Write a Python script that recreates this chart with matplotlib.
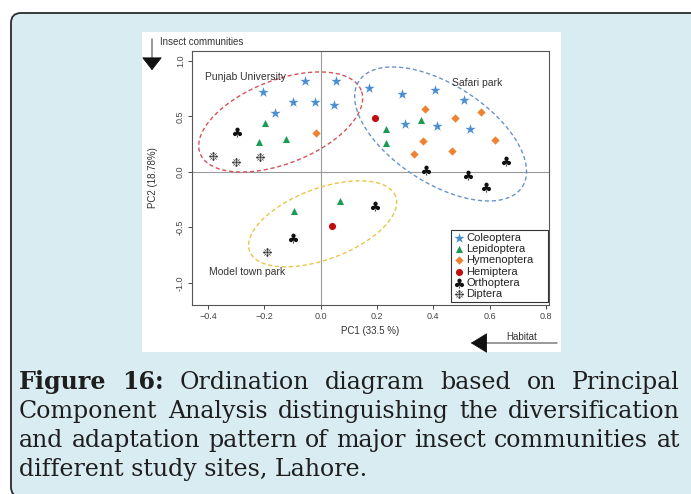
import numpy as np
import matplotlib
matplotlib.use('Agg')
import matplotlib.pyplot as plt
from matplotlib.patches import FancyBboxPatch, Rectangle, FancyArrowPatch

plt.rcParams['font.family'] = ['Liberation Sans', 'DejaVu Sans']

# PCA scores per insect order (PC1, PC2)
coleoptera_x = [-0.205, -0.054, 0.053, -0.161, -0.10, -0.02, 0.049, 0.17, 0.29, 0.407, 0.509, 0.30, 0.414, 0.53]
coleoptera_y = [0.72, 0.82, 0.82, 0.53, 0.63, 0.63, 0.60, 0.76, 0.70, 0.74, 0.65, 0.43, 0.41, 0.39]
lepidoptera_x = [-0.196, -0.22, -0.122, 0.233, 0.231, 0.358, 0.067, -0.095]
lepidoptera_y = [0.44, 0.27, 0.30, 0.39, 0.26, 0.47, -0.26, -0.35]
hymenoptera_x = [-0.018, 0.371, 0.571, 0.476, 0.618, 0.363, 0.466, 0.33]
hymenoptera_y = [0.35, 0.57, 0.54, 0.49, 0.29, 0.28, 0.19, 0.16]
hemiptera_x = [0.194, 0.04]
hemiptera_y = [0.49, -0.49]
orthoptera_x = [-0.297, 0.373, 0.523, 0.586, 0.657, -0.098, 0.192]
orthoptera_y = [0.36, 0.02, -0.03, -0.14, 0.10, -0.60, -0.31]
diptera_x = [-0.383, -0.30, -0.214, -0.19]
diptera_y = [0.14, 0.09, 0.13, -0.72]

# site groupings: name, label pos, centre, semi axes (px), tilt (deg), colour
sites = ['Punjab University', 'Safari park', 'Model town park']
site_label_x = [-0.412, 0.468, -0.398]
site_label_y = [0.86, 0.80, -0.90]
site_cx = [-0.142, 0.426, 0.007]
site_cy = [0.45, 0.342, -0.468]
site_a = [86.5, 97.3, 78.0]
site_b = [41.7, 49.1, 35.4]
site_ang = [21.4, -32.9, 20.6]
site_col = ['#d4545a', '#6a93c8', '#e9c449']

caption = [
    [('Figure', 'bold'), ('16:', 'bold'), ('Ordination', 'normal'), ('diagram', 'normal'),
     ('based', 'normal'), ('on', 'normal'), ('Principal', 'normal')],
    [(w, 'normal') for w in 'Component Analysis distinguishing the diversification'.split()],
    [(w, 'normal') for w in 'and adaptation pattern of major insect communities at'.split()],
]
caption_last = 'different study sites, Lahore.'

fig = plt.figure(figsize=(6.91, 4.94), dpi=100)
fig.patch.set_facecolor('white')
H = 4.94

# page box and white picture panel (behind the axes)
box = FancyBboxPatch((0.11, -0.03), 7.0, H - 0.13 + 0.03,
                     boxstyle='round,pad=0,rounding_size=0.1',
                     transform=fig.dpi_scale_trans, facecolor='#d8ecf2',
                     edgecolor='#2b2b2b', lw=1.3, zorder=-3)
fig.patches.append(box)
panel = Rectangle((1.415, H - 3.52), 4.19, 3.20, transform=fig.dpi_scale_trans,
                  facecolor='white', edgecolor='none', zorder=-2)
fig.patches.append(panel)

ax = fig.add_axes([192 / 691, 1 - 305 / 494, 357 / 691, 254 / 494])
ax.patch.set_alpha(0)
ax.set_xlim(-0.457, 0.811)
ax.set_ylim(-1.2, 1.09)

ax.axhline(0, color='#9a9a9a', lw=0.8, zorder=0)
ax.axvline(0, color='#9a9a9a', lw=0.8, zorder=0)

ax.scatter(coleoptera_x, coleoptera_y, marker='*', s=60, color='#4b8fd1', lw=0, label='Coleoptera')
ax.scatter(lepidoptera_x, lepidoptera_y, marker='^', s=26, color='#1a9a52', lw=0, label='Lepidoptera')
ax.scatter(hymenoptera_x, hymenoptera_y, marker='D', s=18, color='#ee8230', lw=0, label='Hymenoptera')
ax.scatter(hemiptera_x, hemiptera_y, marker='o', s=26, color='#c00d0d', lw=0, label='Hemiptera')
ax.scatter(orthoptera_x, orthoptera_y, marker=r'$\clubsuit$', s=50, color='#111111', lw=0, label='Orthoptera')
ax.scatter(diptera_x, diptera_y, marker='$\u2749$', s=40, color='#333333', lw=0, label='Diptera')

# ellipses drawn in screen-like units so the tilt matches the picture
pos = ax.get_position()
sx = pos.width * 691 / (0.811 + 0.457)
sy = pos.height * 494 / (1.09 + 1.2)
t = np.linspace(0, 2 * np.pi, 300)
for i in range(len(sites)):
    th = np.radians(site_ang[i])
    dx = site_a[i] * np.cos(t) * np.cos(th) - site_b[i] * np.sin(t) * np.sin(th)
    dy = site_a[i] * np.cos(t) * np.sin(th) + site_b[i] * np.sin(t) * np.cos(th)
    ax.plot(site_cx[i] + dx / sx, site_cy[i] + dy / sy, color=site_col[i],
            lw=1.0, ls=(0, (3, 2)), zorder=1)
    ax.text(site_label_x[i], site_label_y[i], sites[i], fontsize=7.5,
            color='#333333', ha='left', va='center')

ax.set_xticks([-0.4, -0.2, 0.0, 0.2, 0.4, 0.6, 0.8])
ax.set_yticks([1.0, 0.5, 0.0, -0.5, -1.0])
ax.set_yticklabels(['1.0', '0.5', '0.0', '-0.5', '-1.0'], rotation=90, va='center')
ax.tick_params(labelsize=6.5, colors='#444444', length=3, width=0.7, pad=2)
for s in ax.spines.values():
    s.set_color('#555555')
    s.set_linewidth(0.8)
ax.set_xlabel('PC1 (33.5 %)', fontsize=7, color='#333333', labelpad=4)
ax.set_ylabel('PC2 (18.78%)', fontsize=7, color='#333333', labelpad=13)

leg = ax.legend(loc='lower left', bbox_to_anchor=(0.7255, 0.012, 0.2717, 0.28),
                mode='expand', borderaxespad=0,
                fontsize=8, fancybox=False, edgecolor='#333333', framealpha=1,
                handletextpad=0.15, labelspacing=0.12, borderpad=0.25,
                handlelength=1.0, scatterpoints=1)
leg.get_frame().set_linewidth(0.8)
for txt in leg.get_texts():
    txt.set_color('#222222')

# axis annotations (arrows)
fig.text(160 / 691, 1 - 42 / 494, 'Insect communities', fontsize=7, color='#333333',
         ha='left', va='center')
fig.patches.append(FancyArrowPatch(
    (1.52, H - 0.36), (1.52, H - 0.73), transform=fig.dpi_scale_trans,
    arrowstyle='-|>,head_width=0.55,head_length=0.7', mutation_scale=12,
    color='#111111', lw=0.6))
fig.text(522 / 691, 1 - 337 / 494, 'Habitat', fontsize=7, color='#333333',
         ha='center', va='center')
fig.patches.append(FancyArrowPatch(
    (5.60, H - 3.43), (4.68, H - 3.43), transform=fig.dpi_scale_trans,
    arrowstyle='-|>,head_width=0.55,head_length=0.9', mutation_scale=12,
    color='#111111', lw=0.6))

# caption, justified
serif = ['DejaVu Serif']
renderer = fig.canvas.get_renderer()
probe = fig.text(0, 0, caption_last, fontsize=15, family=serif)
size = 15 * 350 / probe.get_window_extent(renderer).width
probe.remove()
left, right = 19, 680
baselines = [389, 418, 447, 476]
for li, words in enumerate(caption):
    items = [fig.text(0, 1 - baselines[li] / 494, w, fontsize=size, family=serif,
                      weight=wt, color='#1e1e1e', va='baseline') for w, wt in words]
    widths = [it.get_window_extent(renderer).width for it in items]
    gap = (right - left - sum(widths)) / (len(items) - 1)
    x = left
    for it, w in zip(items, widths):
        it.set_x(x / 691)
        x += w + gap
fig.text(left / 691, 1 - baselines[3] / 494, caption_last, fontsize=size, family=serif,
         color='#1e1e1e', va='baseline')

fig.savefig('out.png', dpi=100)
